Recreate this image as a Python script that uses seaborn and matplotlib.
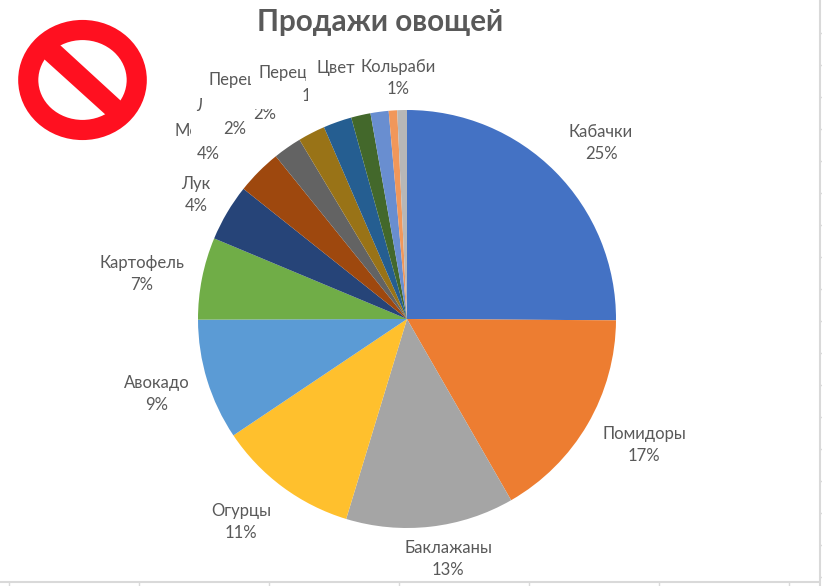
import matplotlib
matplotlib.use('Agg')
import matplotlib.pyplot as plt
from matplotlib.patches import Ellipse, Polygon, Rectangle
import seaborn as sns

# Slice values, clockwise from the top
shares = [25.1, 16.6, 13.0, 10.9, 9.35, 6.35, 4.4, 3.5, 2.2, 2.1, 2.2, 1.5, 1.4, 0.65, 0.75]
slice_colors = ['#4472C4', '#ED7D31', '#A5A5A5', '#FFC02D', '#5B9BD5', '#70AD47', '#264478', '#9E480E',
                '#636363', '#997317', '#255E91', '#43682B', '#698ED0', '#F1975A', '#B7B7B7']

whole_names = ['Кабачки', 'Помидоры', 'Баклажаны', 'Огурцы', 'Авокадо', 'Картофель', 'Лук', 'Кольраби']
whole_pcts = ['25%', '17%', '13%', '11%', '9%', '7%', '4%', '1%']
title = 'Продажи овощей'

# centre x and name row for each whole label, in picture pixels
whole_x = [601, 644, 448, 241, 157, 142, 196, 398]
whole_y = [132, 434, 548, 511, 383, 263, 184, 67]

W, H = 822, 586
GRAY = '#595959'

sns.set_theme(style='white')
plt.rcParams['font.family'] = ['Lato', 'Open Sans', 'DejaVu Sans']

fig = plt.figure(figsize=(W / 100, H / 100), dpi=100, facecolor='white')
ax = fig.add_axes([0, 0, 1, 1])


def py(y):
    # picture rows run downwards
    return H - y


ax.pie(shares, colors=sns.color_palette(slice_colors), center=(407, py(319)), radius=209,
       startangle=90, counterclock=False, wedgeprops={'linewidth': 0}, frame=True)
ax.set_aspect('equal')
ax.set_xlim(0, W)
ax.set_ylim(0, H)
ax.axis('off')


def label(x, y, s, ha='center', clip=None):
    t = ax.text(x, py(y), s, ha=ha, va='center', fontsize=12, color=GRAY)
    if clip:
        x0, y0, x1, y1 = clip
        t.set_clip_path(Rectangle((x0, py(y1)), x1 - x0, y1 - y0, transform=ax.transData))
        t.set_clip_on(True)


for x, y, name, pct in zip(whole_x, whole_y, whole_names, whole_pcts):
    label(x, y, name)
    label(x, y + 22, pct)

# Labels cut off in the picture
label(208, 154, '4%')
label(174, 131, 'Мо', ha='left', clip=(170, 115, 191, 145))
label(196, 106, 'Л', ha='left', clip=(190, 97, 202, 113))
label(235, 129, '2%', clip=(220, 121, 250, 140))
label(208, 80, 'Перец', ha='left', clip=(200, 65, 251, 92))
label(265, 114, '2%', clip=(250, 109, 280, 125))
label(258, 73, 'Перец', ha='left', clip=(250, 60, 306, 85))
label(302, 96, '1', ha='left', clip=(295, 85, 308, 105))
label(316, 68, 'Цветн', ha='left', clip=(310, 55, 355, 80))

ax.text(380, py(22), title, ha='center', va='center', fontsize=21.3, fontweight='bold', color=GRAY)

# Prohibition sign pasted over the chart
RED = '#FF1020'
ax.add_patch(Ellipse((82.5, py(80)), 108.5, 100, fill=False, ec=RED, lw=14.5))
ax.add_patch(Polygon([(39, py(54.5)), (54, py(39.5)), (126, py(105.5)), (112, py(120.5))], fc=RED, lw=0))

# Spreadsheet cell borders at the edge of the screenshot
EDGE = '#D9D9D9'
ax.plot([0, 820], [py(582), py(582)], color=EDGE, lw=1.5, solid_capstyle='butt')
ax.plot([820, 820], [0, H], color=EDGE, lw=1.5, solid_capstyle='butt')
ax.vlines(range(9, 800, 130), py(586), py(582), color=EDGE, lw=1)
ax.hlines([py(33 + 32 * i) for i in range(18)], 820, 822, color=EDGE, lw=1)

fig.savefig('out.png', dpi=100)
